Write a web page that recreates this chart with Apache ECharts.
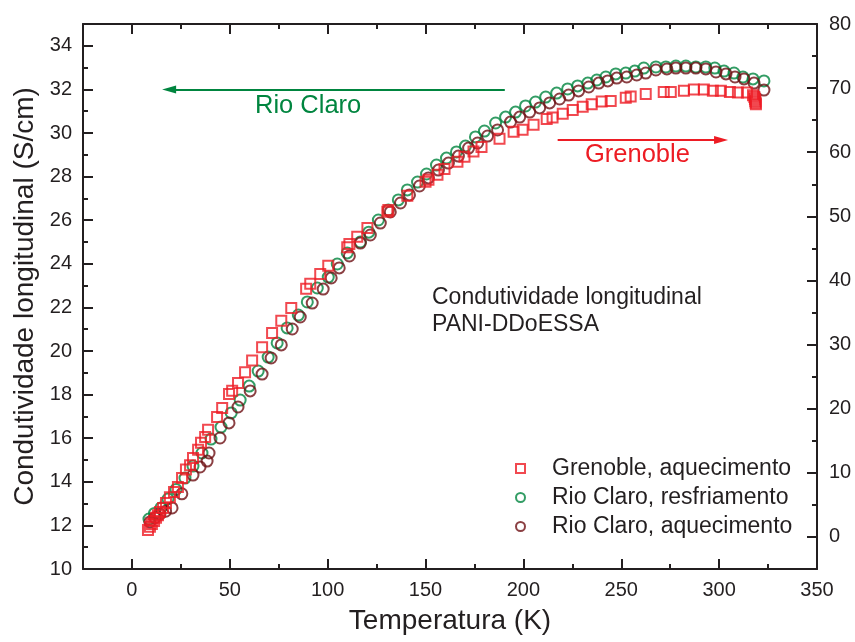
<!DOCTYPE html>
<html>
<head>
<meta charset="utf-8">
<script src="https://cdn.jsdelivr.net/npm/echarts@6/dist/echarts.min.js"></script>
<style>html,body{margin:0;padding:0;background:#fff}#c{width:855px;height:642px}</style>
</head>
<body>
<div id="c"></div>
<script>
// ---- data ----
const grenT = [8.2,9.2,10.2,11.3,12.3,13.3,14.3,15.9,17.4,19.4,21.5,23.5,25.6,27.6,29.7,31.2,33.8,35.3,37.4,38.9,43.5,46.1,49.6,51.2,54.2,57.8,61.4,66.5,71.6,76.3,81.4,89.0,91.1,96.2,100.3,110.0,111.1,115.1,120.3,130.5,131.0,140.7,150.0,151.5,156.1,159.7,166.3,169.9,174.5,178.6,187.8,195.0,199.6,205.2,211.9,214.9,220.1,225.2,230.3,234.9,240.0,244.6,252.3,254.8,262.5,271.7,275.3,282.0,287.1,292.2,296.8,300.9,305.5,309.6,314.2,317.3,318.0,318.3,318.5,318.6,318.8];
const grenV = [1.1,1.6,2.0,2.5,3.0,3.4,3.9,4.5,5.3,6.2,7.0,7.8,9.2,10.5,11.2,12.3,13.6,14.7,15.6,16.7,18.7,20.1,22.3,22.8,24.0,25.7,27.5,29.6,31.8,33.7,35.7,38.7,39.5,41.0,42.3,45.2,45.7,46.8,48.2,50.7,51.0,53.2,55.4,55.7,56.5,57.4,58.5,59.3,60.1,60.8,62.1,63.2,63.5,64.3,65.2,65.4,66.0,66.6,67.1,67.5,67.9,68.0,68.5,68.7,69.1,69.4,69.4,69.6,69.8,69.8,69.6,69.6,69.4,69.3,69.3,68.9,68.6,68.3,68.0,67.7,67.5];

const coolT = [8.7,11.5,14.8,18.4,22.5,27.1,31.2,35.8,40.4,45.5,50.7,55.3,59.9,64.5,69.6,74.2,79.3,85.0,89.6,94.7,100.3,104.9,110.0,116.7,121.0,125.9,131.0,136.1,140.7,145.9,150.5,155.6,160.7,165.8,170.4,175.5,180.1,185.8,190.9,196.0,201.1,206.2,211.4,217.0,222.6,227.7,232.9,237.5,242.1,247.2,252.3,256.9,261.5,267.7,272.8,277.9,283.0,288.1,293.2,297.8,302.5,307.6,312.2,317.3,322.9];
const coolV = [12.29,12.55,12.80,13.21,13.65,14.17,14.72,15.32,15.96,16.51,17.16,17.75,18.39,19.08,19.72,20.37,21.06,21.65,22.25,22.89,23.39,23.99,24.50,25.00,25.45,26.01,26.47,26.93,27.39,27.75,28.12,28.53,28.85,29.13,29.40,29.82,30.09,30.46,30.73,30.96,31.24,31.42,31.65,31.83,32.02,32.16,32.29,32.43,32.57,32.71,32.75,32.84,32.98,33.03,33.03,33.07,33.07,33.03,33.03,32.98,32.84,32.75,32.57,32.48,32.39];

const heatT = [9.2,11.8,14.3,17.2,20.5,25.5,31.2,34.8,38.4,39.4,45.0,49.6,54.2,60.4,66.5,71.1,76.3,81.9,86.0,92.1,97.7,101.8,105.9,111.1,116.7,121.8,126.9,132.0,137.2,141.8,146.9,151.5,156.6,161.7,166.8,172.0,176.6,181.7,186.8,193.4,198.1,203.2,208.3,213.4,218.5,223.1,228.2,233.4,238.5,243.1,247.7,252.8,257.9,262.5,267.7,273.3,277.9,283.0,288.1,293.2,298.4,303.5,308.1,312.7,317.8,322.9];
const heatV = [12.16,12.35,12.52,12.65,12.80,13.45,14.31,14.68,14.95,15.32,16.01,16.70,17.43,18.17,18.94,19.68,20.28,21.01,21.56,22.20,22.84,23.35,23.81,24.36,24.95,25.32,25.87,26.38,26.79,27.16,27.57,27.94,28.30,28.62,28.94,29.31,29.54,29.86,30.14,30.50,30.73,30.96,31.15,31.38,31.56,31.74,31.93,32.11,32.29,32.39,32.52,32.57,32.66,32.75,32.89,32.94,32.98,32.98,32.98,32.94,32.80,32.71,32.57,32.48,32.29,31.97];

const xMajor = [0,50,100,150,200,250,300,350];
const xMinor = [25,75,125,175,225,275,325];
const yLeftMajor = [10,12,14,16,18,20,22,24,26,28,30,32,34];
const yLeftMinor = [11,13,15,17,19,21,23,25,27,29,31,33];
const yRightMajor = [0,10,20,30,40,50,60,70,80];
const yRightMinor = [5,15,25,35,45,55,65,75];

const seriesNames = ['Grenoble, aquecimento','Rio Claro, resfriamento','Rio Claro, aquecimento'];
const RED = '#ED1C24', GREEN = '#00853F', DARK = '#6E1014', INK = '#231F20';
const FONT = "'Liberation Sans', Arial, sans-serif";

function pairs(xs, ys){ return xs.map((x,i)=>[x, ys[i]]); }

const chart = echarts.init(document.getElementById('c'), null, {renderer:'canvas'});

function mkX(pos, ticks, len, showLine, showLabel, extra){
  return Object.assign({
    type:'value', position:pos, min:-25, max:350,
    axisLine:{show:showLine, onZero:false, lineStyle:{color:INK, width:2}},
    axisTick:{show:true, inside:true, length:len, customValues:ticks, lineStyle:{color:INK, width:2}},
    axisLabel:{show:showLabel, customValues:ticks, color:INK, fontSize:20, fontFamily:FONT, margin:11},
    splitLine:{show:false}
  }, extra||{});
}
function mkY(pos, min, max, ticks, len, showLine, showLabel, extra){
  return Object.assign({
    type:'value', position:pos, min:min, max:max,
    axisLine:{show:showLine, onZero:false, lineStyle:{color:INK, width:2}},
    axisTick:{show:true, inside:true, length:len, customValues:ticks, lineStyle:{color:INK, width:2}},
    axisLabel:{show:showLabel, customValues:ticks, color:INK, fontSize:20, fontFamily:FONT, margin:11},
    splitLine:{show:false}
  }, extra||{});
}

const option = {
  animation:false,
  backgroundColor:'#fff',
  grid:{left:83, right:38, top:24, bottom:73, containLabel:false},
  xAxis:[
    mkX('bottom', xMajor, 10, true, true, {name:'Temperatura (K)', nameLocation:'middle', nameGap:38, nameTextStyle:{color:INK, fontSize:28, fontFamily:FONT}}),
    mkX('bottom', xMinor, 5, false, false),
    mkX('top', xMajor, 10, true, false),
    mkX('top', xMinor, 5, false, false)
  ],
  yAxis:[
    mkY('left', 10, 35, yLeftMajor, 10, true, true, {name:'Condutividade longitudinal (S/cm)', nameLocation:'middle', nameGap:43, nameTextStyle:{color:INK, fontSize:28, fontFamily:FONT}}),
    mkY('left', 10, 35, yLeftMinor, 5, false, false),
    mkY('right', -5, 80, yRightMajor, 10, true, true, {axisLabel:{customValues:yRightMajor, color:INK, fontSize:20, fontFamily:FONT, margin:12}}),
    mkY('right', -5, 80, yRightMinor, 5, false, false)
  ],
  legend:{
    orient:'vertical', left:510, top:452, itemWidth:9, itemHeight:9, itemGap:6,
    textStyle:{color:INK, fontSize:23, lineHeight:23, fontFamily:FONT, padding:[0,0,0,22]},
    data:[
      {name:seriesNames[0], icon:'rect', itemStyle:{color:'#fff', borderColor:RED, borderWidth:2}},
      {name:seriesNames[1], icon:'circle', itemStyle:{color:'#fff', borderColor:GREEN, borderWidth:2}},
      {name:seriesNames[2], icon:'circle', itemStyle:{color:'#fff', borderColor:DARK, borderWidth:2}}
    ]
  },
  series:[
    {
      name:seriesNames[1], type:'scatter', xAxisIndex:0, yAxisIndex:0,
      symbol:'circle', symbolSize:11,
      itemStyle:{color:'rgba(255,255,255,0)', borderColor:GREEN, borderWidth:2},
      data:pairs(coolT, coolV),
      markLine:{
        silent:true, symbol:['none','triangle'], symbolSize:[8,14],
        label:{show:false},
        lineStyle:{color:GREEN, width:2, type:'solid'},
        data:[[{coord:[190.5,32]},{coord:[19,32]}]]
      }
    },
    {
      name:seriesNames[2], type:'scatter', xAxisIndex:0, yAxisIndex:0,
      symbol:'circle', symbolSize:11,
      itemStyle:{color:'rgba(255,255,255,0)', borderColor:DARK, borderWidth:2},
      data:pairs(heatT, heatV)
    },
    {
      name:seriesNames[0], type:'scatter', xAxisIndex:0, yAxisIndex:2,
      symbol:'rect', symbolSize:10,
      itemStyle:{color:'rgba(255,255,255,0)', borderColor:RED, borderWidth:2},
      data:pairs(grenT, grenV),
      markLine:{
        silent:true, symbol:['none','triangle'], symbolSize:[8,14],
        label:{show:false},
        lineStyle:{color:RED, width:2, type:'solid'},
        data:[[{coord:[217.5,61.9]},{coord:[301,61.9]}]]
      }
    }
  ],
  graphic:[
    {type:'text', x:255, y:106, style:{text:'Rio Claro', fill:GREEN, font:"25.5px 'Liberation Sans', Arial, sans-serif", align:'left', verticalAlign:'middle'}},
    {type:'text', x:585, y:155, style:{text:'Grenoble', fill:RED, font:"25.5px 'Liberation Sans', Arial, sans-serif", align:'left', verticalAlign:'middle'}},
    {type:'text', x:432, y:298, style:{text:'Condutividade longitudinal', fill:INK, font:"23px 'Liberation Sans', Arial, sans-serif", align:'left', verticalAlign:'middle'}},
    {type:'text', x:432, y:325, style:{text:'PANI-DDoESSA', fill:INK, font:"23px 'Liberation Sans', Arial, sans-serif", align:'left', verticalAlign:'middle'}}
  ]
};
chart.setOption(option);
</script>
</body>
</html>
